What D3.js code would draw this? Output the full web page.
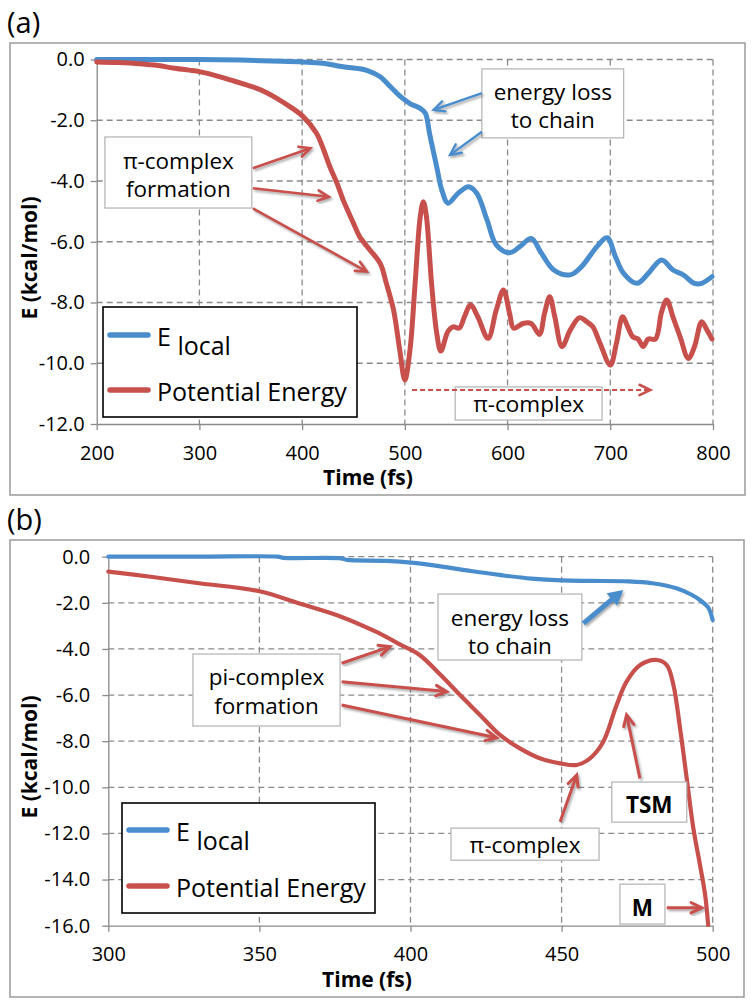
<!DOCTYPE html>
<html lang="en">
<head>
<meta charset="UTF-8">
<title>Energy profiles</title>
<script src="https://cdn.jsdelivr.net/npm/d3@7"></script>
<style>
    body {margin: 0; background: #fff;}
    text {font-family: "Open Sans", sans-serif; fill: #000;}
    .grid line {stroke: #8a8a8a; stroke-width: 1.3; stroke-dasharray: 6,4;}
    .axis path, .axis line {stroke: #8a8a8a; stroke-width: 1.3;}
    .axis text {font-size: 20px; fill: #000;}
    .frame {fill: none; stroke: #9a9a9a; stroke-width: 1.5;}
    .title {font-size: 21px; font-weight: bold;}
    .note rect {fill: #fff; stroke: #b8b8b8; stroke-width: 1.3;}
    .note text {font-size: 22.5px; text-anchor: middle;}
    .legend rect {fill: #fff; stroke: #000; stroke-width: 1.6;}
    .legend text {font-size: 25px;}
</style>
</head>
<body>
<svg id="chart" width="756" height="1008"></svg>
<script>

// ---- data, panel (a): time (fs), energy (kcal/mol)
var ticksXA = [200, 300, 400, 500, 600, 700, 800];
var ticksYA = [0, -2, -4, -6, -8, -10, -12];

var potentialA = [[200,-0.08],[220,-0.1],[242,-0.14],[260,-0.2],[274,-0.28],[290,-0.35],[300,-0.4],
    [315,-0.52],[330,-0.67],[345,-0.83],[356,-0.95],[366,-1.1],[375,-1.27],[388,-1.55],[401,-1.88],
    [414,-2.43],[421,-2.98],[427,-3.53],[434,-4.08],[440,-4.63],[450,-5.39],[456,-5.83],[466,-6.27],
    [476,-6.71],[482,-7.37],[489,-8.25],[495,-9.56],[500,-10.55],[505,-9.56],[510,-7.37],[515,-5.17],
    [518,-4.68],[521,-5.17],[526,-7.37],[531,-9.0],[535,-9.6],[542,-8.95],[547,-8.8],[553,-8.84],
    [558,-8.47],[564,-8.08],[571,-8.47],[581,-9.18],[589,-8.25],[596,-7.59],[602,-8.36],[606,-8.85],
    [615,-8.69],[623,-8.69],[631,-9.05],[636,-8.36],[641,-7.81],[646,-8.47],[653,-9.45],[661,-8.91],
    [670,-8.5],[677,-8.63],[683,-8.8],[690,-9.34],[700,-10.06],[706,-9.34],[712,-8.47],[717,-8.8],
    [722,-9.13],[727,-9.2],[732,-9.45],[737,-9.2],[744,-9.2],[750,-8.3],[755,-7.92],[761,-8.47],
    [768,-9.13],[776,-9.84],[782,-9.45],[789,-8.63],[794,-8.9],[799,-9.2]];

var elocalA = [[200,0],[250,0],[300,0],[340,-0.02],[370,-0.05],[400,-0.08],[420,-0.12],[440,-0.24],
    [455,-0.3],[463,-0.36],[476,-0.57],[486,-0.9],[495,-1.2],[505,-1.45],[515,-1.61],[520,-1.77],
    [524,-2.43],[531,-3.53],[536,-4.3],[542,-4.73],[552,-4.4],[562,-4.19],[570,-4.4],[580,-5.28],
    [589,-6.1],[602,-6.36],[612,-6.16],[623,-5.89],[633,-6.38],[645,-6.93],[661,-7.09],[672,-6.82],
    [687,-6.16],[697,-5.87],[705,-6.49],[713,-7.04],[726,-7.37],[737,-7.04],[750,-6.6],[761,-6.93],
    [771,-7.09],[782,-7.37],[789,-7.37],[799,-7.15]];

// ---- data, panel (b)
var ticksXB = [300, 350, 400, 450, 500];
var ticksYB = [0, -2, -4, -6, -8, -10, -12, -14, -16];

var potentialB = [[300,-0.65],[314,-0.87],[330,-1.15],[350,-1.5],[363,-2.02],[377,-2.6],[388,-3.22],
    [396.5,-3.8],[403,-4.26],[410,-5.13],[416.4,-6.0],[423,-6.86],[429.6,-7.73],[436.2,-8.31],
    [442.8,-8.74],[449.5,-8.96],[455,-9.03],[459.4,-8.74],[463.8,-8.02],[468.2,-6.43],[471.5,-5.42],
    [476,-4.7],[481.5,-4.48],[484.8,-4.7],[487,-5.56],[489.2,-7.44],[491.4,-9.61],[493.6,-11.78],
    [495.8,-13.37],[497.5,-14.67],[498.5,-15.97]];

var elocalB = [[300,0],[330,0],[356,0],[358,-0.05],[377,-0.07],[379,-0.14],[392,-0.18],[401,-0.27],[410,-0.42],
    [420,-0.62],[430,-0.8],[440,-0.95],[450,-1.03],[460,-1.05],[472,-1.07],[480,-1.15],[488,-1.37],
    [493,-1.65],[496,-1.9],[498.5,-2.2],[500,-2.75]];

var seriesNames = ["E", "Potential Energy"];
var blue = "#4a8dcd", red = "#c8504c";

// annotation boxes: [t0, t1, Etop, Ebottom], text baselines in E
var notesA = [
    {lines: ["\u03c0-complex", "formation"], box: [208, 351, -2.55, -4.89], base: [-3.62, -4.54]},
    {lines: ["energy loss", "to chain"], box: [575, 713, -0.31, -2.58], base: [-1.33, -2.26]},
    {lines: ["\u03c0-complex"], box: [549, 692, -10.78, -11.87], base: [-11.6]}
];
var arrowsA = [
    {from: [352, -3.58], to: [408, -2.92], color: red, w: 2.6},
    {from: [352, -4.24], to: [426, -4.52], color: red, w: 2.6},
    {from: [352, -4.9], to: [463, -6.98], color: red, w: 2.6},
    {from: [575, -1.11], to: [528, -1.66], color: blue, w: 2.4},
    {from: [575, -2.38], to: [544, -3.14], color: blue, w: 2.4},
    {from: [507, -10.88], to: [739, -10.88], color: red, w: 1.8, dash: "5,3", noShadow: true}
];

var notesB = [
    {lines: ["energy loss", "to chain"], box: [409.1, 456.7, -1.62, -4.48], base: [-3.0, -4.22]},
    {lines: ["pi-complex", "formation"], box: [328, 376.7, -4.22, -7.34], base: [-5.58, -6.8]},
    {lines: ["TSM"], box: [466.6, 491.4, -9.77, -11.51], base: [-11.11], bold: true},
    {lines: ["\u03c0-complex"], box: [413.4, 462.4, -11.77, -13.16], base: [-12.85]},
    {lines: ["M"], box: [469.3, 484.2, -14.2, -15.93], base: [-15.58], bold: true}
];
var arrowsB = [
    {from: [457.2, -2.89], to: [470.4, -1.44], color: blue, w: 5, filled: true},
    {from: [377.2, -4.62], to: [393.2, -3.9], color: red, w: 3},
    {from: [377.2, -5.42], to: [412, -5.85], color: red, w: 3},
    {from: [377.2, -6.43], to: [428.5, -7.85], color: red, w: 3},
    {from: [475.9, -9.61], to: [471.5, -6.86], color: red, w: 3},
    {from: [449.5, -11.49], to: [455, -9.47], color: red, w: 3},
    {from: [484.8, -15.22], to: [496.4, -15.22], color: red, w: 3}
];

var svg = d3.select("#chart");

var shadow = svg.append("defs").append("filter").attr("id", "shadow")
    .attr("x", "-20%").attr("y", "-20%").attr("width", "140%").attr("height", "140%");
shadow.append("feDropShadow").attr("dx", 1.5).attr("dy", 2).attr("stdDeviation", 1.3)
    .attr("flood-color", "#444").attr("flood-opacity", 0.45);

function drawPanel(p) {
    var x = d3.scaleLinear().domain(p.xDomain).range([p.left, p.right]);
    var y = d3.scaleLinear().domain(p.yDomain).range([p.bottom, p.top]);
    var g = svg.append("g");

    g.append("rect").attr("class", "frame")
        .attr("x", p.frame[0]).attr("y", p.frame[1])
        .attr("width", p.frame[2] - p.frame[0]).attr("height", p.frame[3] - p.frame[1]);

    g.append("text").attr("x", 7).attr("y", p.frame[1] - 10)
        .style("font-size", "29px").text(p.label);

    // dashed grid
    var grid = g.append("g").attr("class", "grid");
    grid.selectAll(".h").data(p.yTicks.filter(function(d) {return d != p.yDomain[0];}))
        .enter().append("line")
        .attr("x1", p.left).attr("x2", p.right)
        .attr("y1", function(d) {return y(d);}).attr("y2", function(d) {return y(d);});
    grid.selectAll(".v").data(p.xTicks.filter(function(d) {return d != p.xDomain[0];}))
        .enter().append("line")
        .attr("y1", p.top).attr("y2", p.bottom)
        .attr("x1", function(d) {return x(d);}).attr("x2", function(d) {return x(d);});

    g.append("g").attr("class", "axis")
        .attr("transform", "translate(" + p.left + ",0)")
        .call(d3.axisLeft(y).tickValues(p.yTicks).tickFormat(function(d) {return d.toFixed(1);})
            .tickSizeInner(6).tickSizeOuter(0).tickPadding(p.yPad));
    g.append("g").attr("class", "axis")
        .attr("transform", "translate(0," + p.bottom + ")")
        .call(d3.axisBottom(x).tickValues(p.xTicks).tickFormat(d3.format("d"))
            .tickSizeInner(6).tickSizeOuter(0).tickPadding(p.xPad));
    g.selectAll(".axis .domain").attr("stroke", "#8a8a8a");

    g.append("text").attr("class", "title")
        .attr("x", p.xTitle[0]).attr("y", p.xTitle[1]).attr("text-anchor", "middle")
        .text("Time (fs)");
    g.append("text").attr("class", "title")
        .attr("transform", "translate(" + p.yTitle[0] + "," + p.yTitle[1] + ") rotate(-90)")
        .attr("text-anchor", "middle").attr("dy", "0.35em")
        .text("E (kcal/mol)");

    var line = d3.line()
        .x(function(d) {return x(d[0]);})
        .y(function(d) {return y(d[1]);})
        .curve(d3.curveCatmullRom.alpha(0.5));

    g.append("path").datum(p.elocal)
        .attr("fill", "none").attr("stroke", blue).attr("stroke-width", p.lw)
        .attr("stroke-linejoin", "round").attr("stroke-linecap", "round")
        .attr("d", line);
    g.append("path").datum(p.potential)
        .attr("fill", "none").attr("stroke", red).attr("stroke-width", p.lw)
        .attr("stroke-linejoin", "round").attr("stroke-linecap", "round")
        .attr("d", line);

    // annotation boxes, one text element per box (lines as tspans)
    p.notes.forEach(function(n) {
        var ng = g.append("g").attr("class", "note");
        var cx = (x(n.box[0]) + x(n.box[1])) / 2;
        ng.append("rect")
            .attr("x", x(n.box[0])).attr("y", y(n.box[2]))
            .attr("width", x(n.box[1]) - x(n.box[0])).attr("height", y(n.box[3]) - y(n.box[2]));
        var t = ng.append("text").attr("x", cx).attr("y", y(n.base[0]))
            .style("font-weight", n.bold ? "bold" : "normal");
        n.lines.forEach(function(s, i) {
            t.append("tspan").attr("x", cx)
                .attr("dy", i == 0 ? 0 : y(n.base[i]) - y(n.base[i - 1]))
                .text(s);
        });
    });

    // arrows
    p.arrows.forEach(function(a) {
        var x1 = x(a.from[0]), y1 = y(a.from[1]), x2 = x(a.to[0]), y2 = y(a.to[1]);
        var ang = Math.atan2(y2 - y1, x2 - x1);
        var len = a.filled ? 17 : 12, spread = a.filled ? 0.5 : 0.45;
        var ag = g.append("g");
        if (!a.noShadow) ag.attr("filter", "url(#shadow)");
        var hx1 = x2 - len * Math.cos(ang - spread), hy1 = y2 - len * Math.sin(ang - spread);
        var hx2 = x2 - len * Math.cos(ang + spread), hy2 = y2 - len * Math.sin(ang + spread);
        if (a.filled) {
            var bx = x2 - len * 0.8 * Math.cos(ang), by = y2 - len * 0.8 * Math.sin(ang);
            ag.append("line").attr("x1", x1).attr("y1", y1).attr("x2", bx).attr("y2", by)
                .attr("stroke", a.color).attr("stroke-width", a.w);
            ag.append("path").attr("d", "M" + x2 + "," + y2 + "L" + hx1 + "," + hy1 + "L" + hx2 + "," + hy2 + "Z")
                .attr("fill", a.color);
        } else {
            ag.append("line").attr("x1", x1).attr("y1", y1).attr("x2", x2).attr("y2", y2)
                .attr("stroke", a.color).attr("stroke-width", a.w)
                .attr("stroke-dasharray", a.dash || null);
            ag.append("path").attr("d", "M" + hx1 + "," + hy1 + "L" + x2 + "," + y2 + "L" + hx2 + "," + hy2)
                .attr("fill", "none").attr("stroke", a.color).attr("stroke-width", a.dash ? 2.6 : a.w)
                .attr("stroke-linejoin", "miter").attr("stroke-linecap", "round");
        }
    });

    // legend
    var lg = g.append("g").attr("class", "legend");
    var L = p.legend;
    lg.append("rect").attr("x", L[0]).attr("y", L[1]).attr("width", L[2] - L[0]).attr("height", L[3] - L[1]);
    [blue, red].forEach(function(c, i) {
        var ly = i == 0 ? L[4] : L[5];
        lg.append("line").attr("x1", L[0] + 7).attr("x2", L[0] + 45)
            .attr("y1", ly).attr("y2", ly)
            .attr("stroke", c).attr("stroke-width", 5.5).attr("stroke-linecap", "round");
        var t = lg.append("text").attr("x", L[0] + 54).attr("y", ly + 11);
        if (i == 0) {
            t.append("tspan").text(seriesNames[0] + " ");
            t.append("tspan").attr("dy", 9).text("local");
        } else {
            t.text(seriesNames[1]);
        }
    });
}

drawPanel({
    label: "(a)",
    frame: [10, 43, 745, 495],
    left: 96.7, right: 713, top: 59.5, bottom: 424,
    xDomain: [200, 800], yDomain: [-12, 0],
    xTicks: ticksXA, yTicks: ticksYA,
    yPad: 6, xPad: 16,
    xTitle: [368, 485], yTitle: [30, 258],
    lw: 5,
    potential: potentialA, elocal: elocalA,
    notes: notesA, arrows: arrowsA,
    legend: [103, 307, 357, 417, 335, 390]
});

drawPanel({
    label: "(b)",
    frame: [10, 540, 744, 997],
    left: 108.3, right: 712.7, top: 556.7, bottom: 925.7,
    xDomain: [300, 500], yDomain: [-16, 0],
    xTicks: ticksXB, yTicks: ticksYB,
    yPad: 12, xPad: 15.5,
    xTitle: [367, 987], yTitle: [30, 757],
    lw: 4.2,
    potential: potentialB, elocal: elocalB,
    notes: notesB, arrows: arrowsB,
    legend: [122, 803, 375, 913, 830, 886]
});

</script>
</body>
</html>
